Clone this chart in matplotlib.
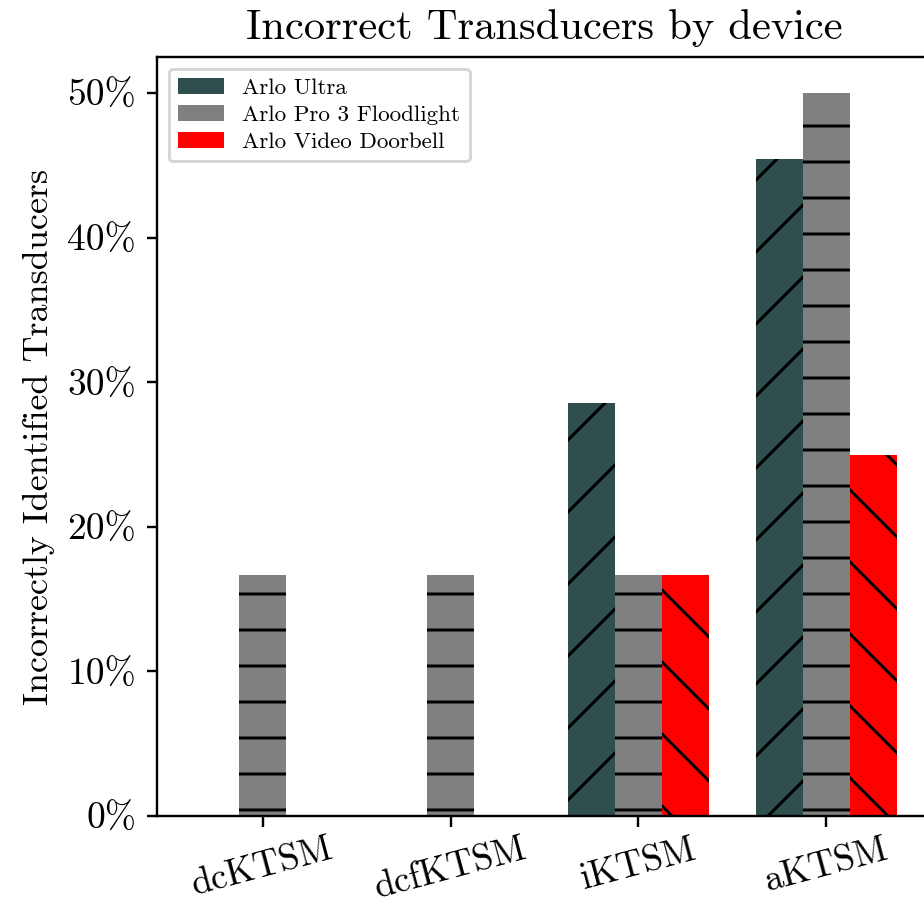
import matplotlib
matplotlib.use('Agg')
import matplotlib.pyplot as plt
import matplotlib.ticker as mticker
from matplotlib.patches import Patch
import numpy as np

# Computer Modern look (no LaTeX available)
plt.rcParams['font.family'] = ['cmr10', 'DejaVu Serif']
plt.rcParams['mathtext.fontset'] = 'cm'
plt.rcParams['axes.formatter.use_mathtext'] = True
plt.rcParams['axes.unicode_minus'] = False

methods = ['dcKTSM', 'dcfKTSM', 'iKTSM', 'aKTSM']
devices = ['Arlo Ultra', 'Arlo Pro 3 Floodlight', 'Arlo Video Doorbell']
arlo_ultra = [0.0, 0.0, 28.57, 45.45]
arlo_pro3 = [16.67, 16.67, 16.67, 50.0]
arlo_doorbell = [0.0, 0.0, 16.67, 25.0]

colors = ['darkslategray', 'gray', 'red']
hatches = ['/', '-', '\\']

dpi = 216
fig = plt.figure(figsize=(924 / dpi, 906 / dpi), dpi=dpi)
ax = fig.add_axes([157 / 924, 90 / 906, 775 / 924, 759 / 906])

x = np.arange(len(methods))
width = 0.25
for i, vals in enumerate([arlo_ultra, arlo_pro3, arlo_doorbell]):
    ax.bar(x + (i - 1) * width, vals, width, color=colors[i], hatch=hatches[i],
           edgecolor='black', linewidth=0)

ax.set_xticks(x)
ax.set_xticklabels(methods, rotation=15, fontsize=12.2)
ax.tick_params(axis='x', pad=2)
ax.yaxis.set_major_formatter(mticker.FuncFormatter(lambda v, p: f'{v:.0f}%'))
ax.tick_params(axis='y', labelsize=12.5)
ax.set_ylabel('Incorrectly Identified Transducers', fontsize=12)
ax.set_title('Incorrect Transducers by device', fontsize=14.2)

handles = [Patch(facecolor=c, label=d) for c, d in zip(colors, devices)]
ax.legend(handles=handles, loc='upper left', fontsize=7.7, labelspacing=0.3)

fig.savefig('out.png', dpi=dpi)
